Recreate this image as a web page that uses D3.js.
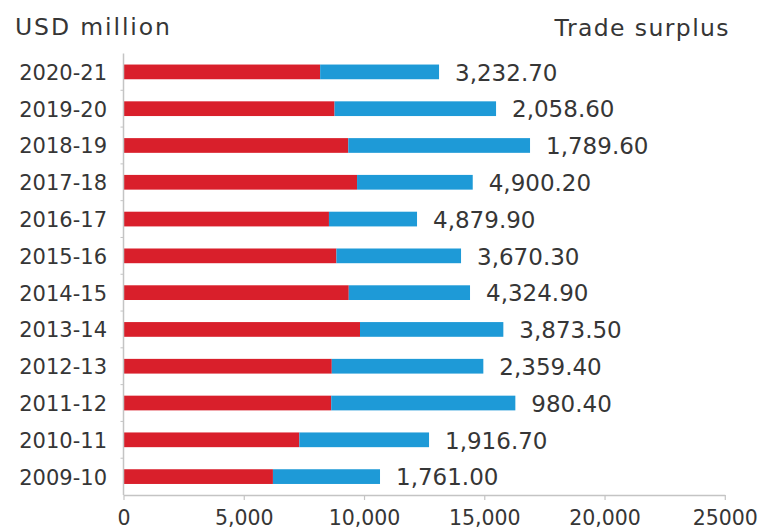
<!DOCTYPE html>
<html>
<head>
<meta charset="utf-8">
<script src="https://cdn.jsdelivr.net/npm/d3@7"></script>
<style>
  html, body { margin: 0; padding: 0; background: #fff; }
  svg { display: block; }
  text { font-family: "DejaVu Sans", sans-serif; fill: #363636; }
</style>
</head>
<body>
<svg id="chart" width="773" height="531"></svg>
<script>
// Fiscal years, most recent first (top of the chart)
const years = ["2020-21", "2019-20", "2018-19", "2017-18", "2016-17", "2015-16",
               "2014-15", "2013-14", "2012-13", "2011-12", "2010-11", "2009-10"];
// Exports (red segment), USD million
const exportsUsd = [8176.0, 8774.0, 9346.0, 9710.0, 8542.0, 8852.0,
                    9366.0, 9833.0, 8660.0, 8636.0, 7310.0, 6213.0];
// Imports (blue segment), USD million
const importsUsd = [4943.3, 6715.4, 7556.4, 4809.8, 3662.1, 5181.7,
                    5041.1, 5959.5, 6300.6, 7655.6, 5393.3, 4452.0];
// Trade surplus printed beside each bar
const surplus = [3232.70, 2058.60, 1789.60, 4900.20, 4879.90, 3670.30,
                 4324.90, 3873.50, 2359.40, 980.40, 1916.70, 1761.00];
// Axis ticks and their labels
const xTicks = [0, 5000, 10000, 15000, 20000, 25000];
const xTickLabels = ["0", "5,000", "10,000", "15,000", "20,000", "25000"];

const rows = years.map((y, i) => ({
  year: y, exp: exportsUsd[i], imp: importsUsd[i], surplus: surplus[i]
}));

const svg = d3.select("#chart");
const RED = "#d91f2b", BLUE = "#1e9ad7", AXIS = "#c4c4c4";

const x = d3.scaleLinear().domain([0, 25000]).range([123.5, 724.8]);
const y = d3.scaleBand().domain(years).range([53.5, 495])
  .paddingInner(0.6).paddingOuter(0.3);

// Titles
svg.append("text").attr("x", 15).attr("y", 35)
  .style("font-size", "23.5px").style("letter-spacing", "1.9px")
  .text("USD million");
svg.append("text").attr("x", 730).attr("y", 36).attr("text-anchor", "end")
  .style("font-size", "23.5px").style("letter-spacing", "1.4px")
  .text("Trade surplus");

// Bars: exports then imports stacked
const g = svg.append("g");
g.selectAll("rect.exp").data(rows).join("rect")
  .attr("class", "exp")
  .attr("x", x(0)).attr("y", d => y(d.year))
  .attr("width", d => x(d.exp) - x(0)).attr("height", y.bandwidth())
  .attr("fill", RED);
g.selectAll("rect.imp").data(rows).join("rect")
  .attr("class", "imp")
  .attr("x", d => x(d.exp)).attr("y", d => y(d.year))
  .attr("width", d => x(d.exp + d.imp) - x(d.exp)).attr("height", y.bandwidth())
  .attr("fill", BLUE);

// Surplus labels
const fmt = d3.format(",.2f");
g.selectAll("text.val").data(rows).join("text")
  .attr("class", "val")
  .attr("x", d => x(d.exp + d.imp) + 16)
  .attr("y", d => y(d.year) + y.bandwidth() / 2)
  .attr("dy", "0.38em")
  .style("font-size", "23px")
  .text(d => fmt(d.surplus));

// X axis
const xAxis = svg.append("g").attr("transform", "translate(0,495)")
  .call(d3.axisBottom(x).tickValues(xTicks).tickSize(5).tickSizeOuter(0)
    .tickFormat((d, i) => xTickLabels[i]));
xAxis.select(".domain").attr("stroke", AXIS).attr("stroke-width", 1.5);
xAxis.selectAll(".tick line").attr("stroke", AXIS).attr("stroke-width", 1.2);
xAxis.selectAll(".tick text").attr("y", 30).attr("dy", null)
  .style("font-size", "20.5px").style("font-family", "DejaVu Sans").attr("fill", "#363636");

// Y axis: vertical line with small marks between categories, labels at left
const yAxis = svg.append("g").attr("transform", `translate(${x(0)},0)`);
yAxis.append("line").attr("x1", 0).attr("x2", 0)
  .attr("y1", y.range()[0]).attr("y2", y.range()[1])
  .attr("stroke", AXIS).attr("stroke-width", 1.5);
yAxis.selectAll("line.sep").data(years.slice(1)).join("line")
  .attr("class", "sep")
  .attr("x1", -3).attr("x2", 0)
  .attr("y1", d => y(d) - (y.step() - y.bandwidth()) / 2)
  .attr("y2", d => y(d) - (y.step() - y.bandwidth()) / 2)
  .attr("stroke", AXIS).attr("stroke-width", 1);
svg.selectAll("text.year").data(rows).join("text")
  .attr("class", "year")
  .attr("x", 107).attr("text-anchor", "end")
  .attr("y", d => y(d.year) + y.bandwidth() / 2)
  .attr("dy", "0.38em")
  .style("font-size", "21px")
  .text(d => d.year);
</script>
</body>
</html>
